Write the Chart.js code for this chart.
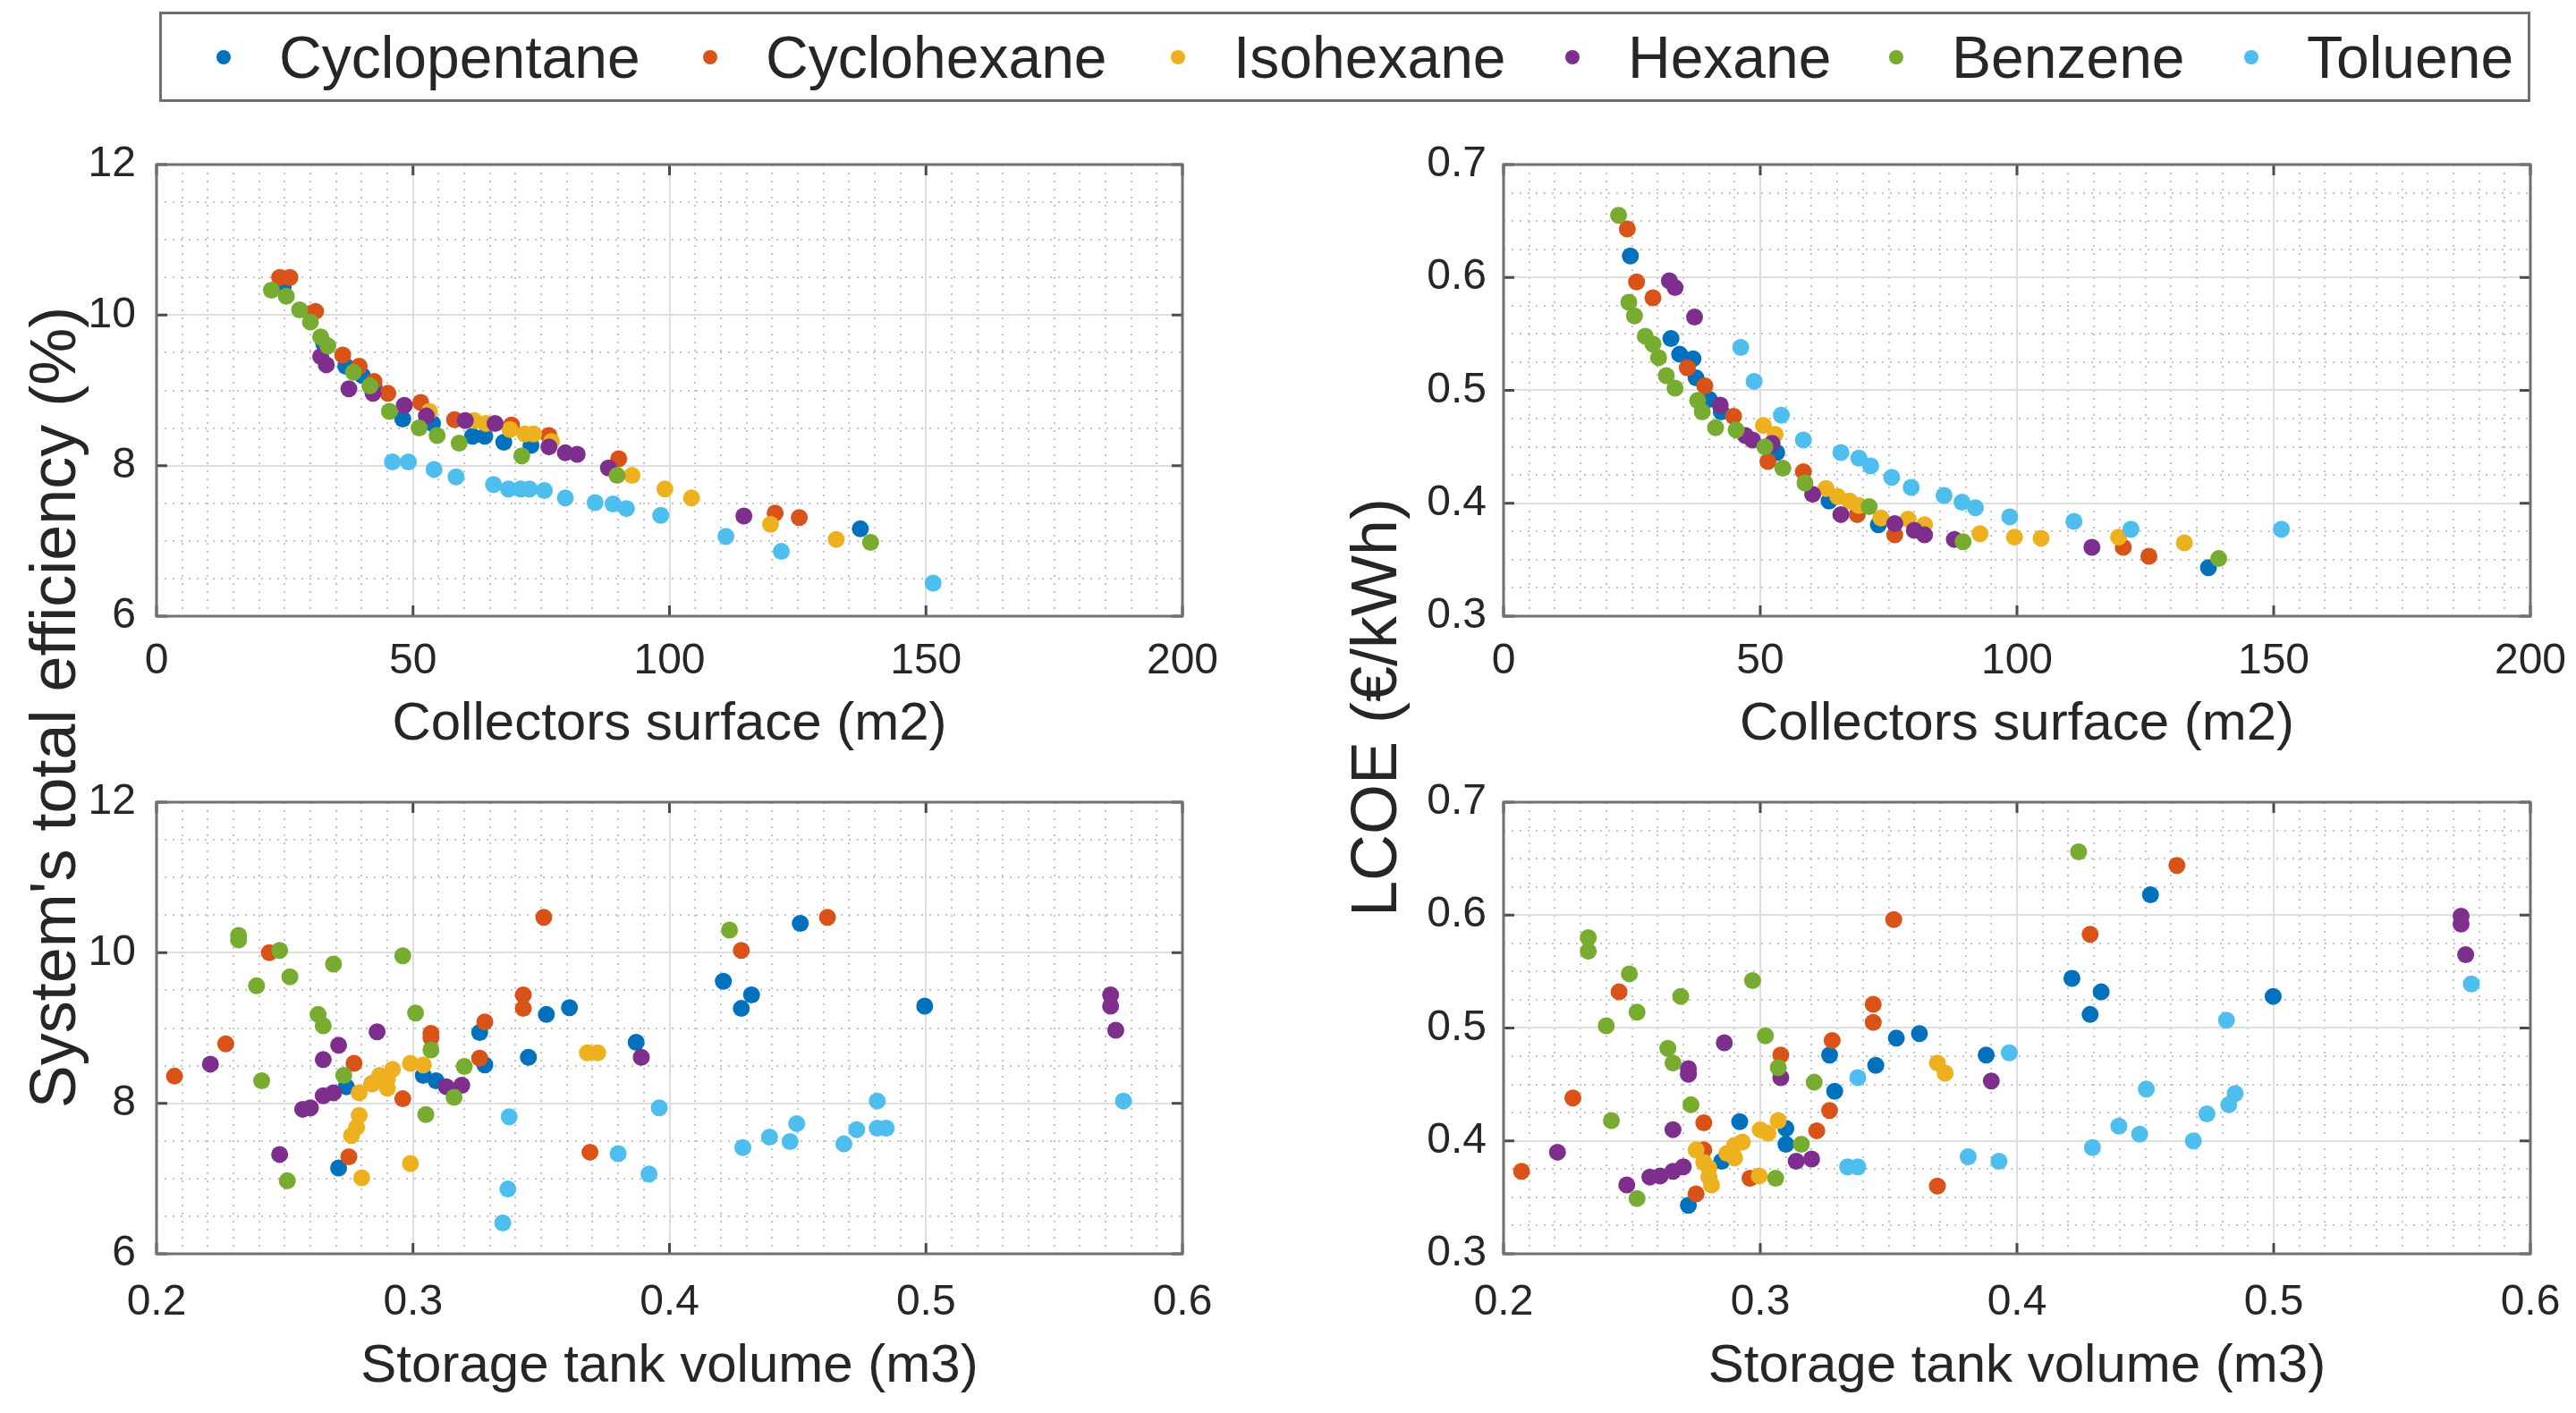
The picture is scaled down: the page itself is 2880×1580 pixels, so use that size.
<!DOCTYPE html>
<html>
<head>
<meta charset="utf-8">
<script src="https://cdn.jsdelivr.net/npm/chart.js@4.4.1/dist/chart.umd.min.js"></script>
<style>
  html, body { margin: 0; padding: 0; background: #fff; }
  body { width: 2880px; height: 1580px; position: relative; overflow: hidden;
         font-family: "Liberation Sans", Arial, sans-serif; color: #262626; }
  .panel { position: absolute; }
  .legend { position: absolute; left: 178px; top: 13px; width: 2651px; height: 101px;
            border: 3px solid #6e6e6e; box-sizing: border-box; background: #fff; }
  .legend-item { position: absolute; top: 0; height: 100%; display: flex; align-items: center;
                 font-size: 66px; white-space: nowrap; }
  .legend-item .dot { width: 16px; height: 16px; border-radius: 50%; margin-right: 54px; }
  .ytitle { position: absolute; font-size: 72px; white-space: nowrap;
            transform: translate(-50%, -50%) rotate(-90deg); }
</style>
</head>
<body>
<div class="legend" id="legend"></div>
<div class="ytitle" style="left:59px; top:791px;">System's total efficiency (%)</div>
<div class="ytitle" style="left:1536px; top:791px;">LCOE (€/kWh)</div>
<div class="panel" style="left:0px; top:150px; width:1390px; height:720px;"><canvas id="effSurf"></canvas></div>
<div class="panel" style="left:1560px; top:150px; width:1320px; height:720px;"><canvas id="lcoeSurf"></canvas></div>
<div class="panel" style="left:0px; top:863px; width:1390px; height:717px;"><canvas id="effVol"></canvas></div>
<div class="panel" style="left:1560px; top:863px; width:1320px; height:717px;"><canvas id="lcoeVol"></canvas></div>
<script>
// Series
const seriesNames = ['Cyclopentane', 'Cyclohexane', 'Isohexane', 'Hexane', 'Benzene', 'Toluene'];
const seriesColors = ['#0072BD', '#D95319', '#EDB120', '#7E2F8E', '#77AC30', '#4DBEEE'];

// Tick labels
const surfaceTicks = [0, 50, 100, 150, 200];
const volumeTicks = [0.2, 0.3, 0.4, 0.5, 0.6];
const effTicks = [6, 8, 10, 12];
const lcoeTicks = [0.3, 0.4, 0.5, 0.6, 0.7];

// Efficiency vs collectors surface, one list per series: [surface, efficiency]
const effBySurface = [
  [[24.7,10.38],[32.6,9.62],[36.9,9.32],[40.1,9.2],[42.4,9.05],[48,8.62],[53.8,8.56],[61.6,8.39],[64,8.39],[67.7,8.31],[73,8.27],[137.2,7.16]],
  [[24,10.5],[26,10.5],[30,10.02],[31,10.05],[36.3,9.47],[39.5,9.32],[42.4,9.12],[45.1,8.96],[51.5,8.84],[58.1,8.61],[69.2,8.54],[76.5,8.4],[90.1,8.09],[120.6,7.37],[125.3,7.31]],
  [[53.2,8.72],[61.9,8.6],[64.2,8.56],[68.9,8.48],[71.8,8.42],[73.5,8.42],[77,8.32],[92.7,7.87],[99.1,7.69],[104.3,7.57],[119.7,7.22],[132.5,7.02]],
  [[32,9.45],[33.1,9.34],[37.5,9.02],[42.2,8.96],[48.3,8.8],[52.6,8.66],[60.2,8.6],[66,8.56],[76.5,8.25],[79.7,8.17],[82,8.15],[88.1,7.97],[114.5,7.33]],
  [[22.4,10.33],[25.3,10.25],[27.9,10.07],[30,9.91],[32,9.71],[33.4,9.59],[38.4,9.24],[41.6,9.06],[45.4,8.72],[51.2,8.5],[54.7,8.4],[59,8.3],[71.2,8.13],[89.8,7.87],[139.2,6.98]],
  [[46,8.05],[49.1,8.05],[54.1,7.95],[58.4,7.85],[65.7,7.75],[68.6,7.69],[71,7.69],[72.7,7.69],[75.6,7.67],[79.7,7.57],[85.5,7.51],[89,7.49],[91.6,7.43],[98.3,7.34],[111,7.06],[121.8,6.86],[151.4,6.44]]
];

// LCOE vs collectors surface: [surface, lcoe]
const lcoeBySurface = [
  [[24.7,0.619],[32.6,0.546],[34.3,0.532],[36.9,0.528],[37.5,0.511],[40.1,0.492],[42.4,0.481],[53.2,0.445],[63.4,0.402],[73,0.381],[137.3,0.343]],
  [[24.1,0.643],[25.9,0.596],[29.1,0.582],[35.8,0.52],[39.2,0.504],[44.8,0.477],[51.5,0.437],[58.4,0.428],[68.9,0.39],[76.2,0.372],[120.7,0.361],[125.7,0.353]],
  [[50.6,0.469],[52.9,0.461],[62.8,0.413],[65.1,0.406],[67.4,0.402],[69.2,0.398],[73.5,0.387],[78.8,0.386],[82,0.381],[92.8,0.373],[99.5,0.37],[104.7,0.369],[119.8,0.37],[132.6,0.365]],
  [[32.3,0.597],[33.4,0.591],[37.2,0.565],[42.2,0.487],[47.1,0.46],[48.5,0.456],[52.3,0.453],[60.2,0.408],[65.7,0.39],[76.2,0.382],[80,0.376],[82,0.372],[87.8,0.368],[114.6,0.361]],
  [[22.4,0.655],[24.4,0.578],[25.5,0.566],[27.6,0.548],[29.1,0.541],[30.2,0.529],[31.7,0.513],[33.4,0.502],[37.8,0.491],[38.7,0.481],[41.3,0.467],[45.3,0.465],[50.9,0.45],[54.4,0.431],[58.7,0.418],[71.2,0.397],[89.5,0.366],[139.3,0.351]],
  [[46.2,0.538],[48.8,0.508],[54.1,0.478],[58.4,0.456],[65.7,0.445],[69.2,0.44],[71.5,0.433],[75.6,0.423],[79.4,0.414],[85.8,0.407],[89.3,0.401],[91.9,0.396],[98.6,0.388],[111.1,0.384],[122.2,0.377],[151.5,0.377]]
];

// Efficiency vs storage tank volume: [volume, efficiency]
const effByVolume = [
  [[0.271,7.14],[0.274,8.22],[0.284,8.26],[0.304,8.37],[0.309,8.3],[0.326,8.94],[0.328,8.51],[0.345,8.61],[0.352,9.18],[0.361,9.27],[0.387,8.81],[0.421,9.62],[0.432,9.44],[0.428,9.26],[0.451,10.39],[0.4995,9.29]],
  [[0.207,8.36],[0.227,8.79],[0.244,10.0],[0.277,8.53],[0.275,7.29],[0.296,8.06],[0.307,8.93],[0.307,8.87],[0.328,9.08],[0.326,8.6],[0.343,9.44],[0.343,9.26],[0.351,10.47],[0.369,7.35],[0.428,10.03],[0.4616,10.47]],
  [[0.279,8.14],[0.279,7.84],[0.278,7.68],[0.276,7.57],[0.28,7.01],[0.284,8.26],[0.287,8.37],[0.29,8.32],[0.29,8.2],[0.292,8.45],[0.299,8.53],[0.304,8.51],[0.299,7.2],[0.368,8.67],[0.372,8.67]],
  [[0.221,8.52],[0.248,7.32],[0.257,7.92],[0.26,7.94],[0.265,8.1],[0.269,8.14],[0.265,8.58],[0.271,8.77],[0.286,8.95],[0.313,8.22],[0.319,8.24],[0.389,8.61],[0.572,9.44],[0.572,9.29],[0.574,8.97]],
  [[0.232,10.23],[0.232,10.17],[0.248,10.03],[0.269,9.85],[0.296,9.96],[0.252,9.68],[0.239,9.56],[0.263,9.18],[0.265,9.03],[0.301,9.2],[0.307,8.71],[0.273,8.37],[0.241,8.3],[0.32,8.49],[0.316,8.08],[0.305,7.85],[0.251,6.97],[0.4234,10.3]],
  [[0.3375,7.82],[0.337,6.86],[0.335,6.41],[0.38,7.33],[0.392,7.06],[0.396,7.94],[0.481,8.03],[0.577,8.03],[0.4496,7.73],[0.439,7.55],[0.447,7.49],[0.4286,7.41],[0.468,7.46],[0.473,7.65],[0.481,7.67],[0.4845,7.67]]
];

// LCOE vs storage tank volume: [volume, lcoe]
const lcoeByVolume = [
  [[0.272,0.343],[0.285,0.382],[0.292,0.417],[0.31,0.411],[0.31,0.397],[0.327,0.476],[0.329,0.444],[0.345,0.467],[0.353,0.491],[0.362,0.495],[0.388,0.476],[0.4214,0.544],[0.4328,0.532],[0.4285,0.512],[0.452,0.618],[0.4998,0.528]],
  [[0.207,0.373],[0.227,0.438],[0.245,0.532],[0.278,0.416],[0.278,0.392],[0.275,0.353],[0.296,0.367],[0.308,0.476],[0.328,0.489],[0.327,0.427],[0.322,0.409],[0.344,0.521],[0.344,0.505],[0.352,0.596],[0.369,0.36],[0.4285,0.583],[0.4623,0.644]],
  [[0.275,0.392],[0.278,0.381],[0.28,0.368],[0.281,0.361],[0.28,0.376],[0.287,0.389],[0.29,0.396],[0.293,0.399],[0.29,0.385],[0.3,0.41],[0.303,0.407],[0.307,0.418],[0.2996,0.369],[0.369,0.469],[0.372,0.46]],
  [[0.221,0.39],[0.248,0.361],[0.257,0.368],[0.261,0.369],[0.266,0.373],[0.27,0.377],[0.266,0.41],[0.272,0.464],[0.272,0.459],[0.286,0.487],[0.308,0.456],[0.314,0.382],[0.32,0.384],[0.39,0.453],[0.573,0.599],[0.573,0.592],[0.5748,0.565]],
  [[0.233,0.58],[0.233,0.568],[0.249,0.548],[0.24,0.502],[0.252,0.514],[0.269,0.528],[0.297,0.542],[0.264,0.482],[0.266,0.469],[0.302,0.493],[0.307,0.465],[0.273,0.432],[0.242,0.418],[0.321,0.452],[0.316,0.397],[0.306,0.367],[0.252,0.349],[0.424,0.656]],
  [[0.338,0.456],[0.334,0.377],[0.338,0.377],[0.381,0.386],[0.393,0.382],[0.397,0.478],[0.4816,0.507],[0.577,0.539],[0.4504,0.446],[0.485,0.442],[0.4825,0.432],[0.474,0.424],[0.4397,0.413],[0.4478,0.406],[0.4687,0.4],[0.4294,0.394]]
];

// Legend (HTML)
const legendLefts = [61, 605, 1128, 1569, 1931, 2328];
const legendEl = document.getElementById('legend');
seriesNames.forEach((name, i) => {
  const item = document.createElement('div');
  item.className = 'legend-item';
  item.style.left = legendLefts[i] + 'px';
  item.innerHTML = `<span class="dot" style="background:${seriesColors[i]}"></span><span>${name}</span>`;
  legendEl.appendChild(item);
});

// helpers
function isMajor(majors, v) {
  return majors.some(t => Math.abs(t - v) < 1e-9);
}

function minorTicks(majors, divisions) {
  const out = [];
  for (let i = 0; i < majors.length - 1; i++) {
    const step = (majors[i + 1] - majors[i]) / divisions;
    for (let j = 0; j < divisions; j++) out.push(+(majors[i] + j * step).toFixed(6));
  }
  out.push(majors[majors.length - 1]);
  return out;
}

// no extra room for edge labels: the plot box must stay where it is
function noPadding(s) {
  s.paddingTop = 0;
  s.paddingBottom = 0;
  s.paddingLeft = 0;
  s.paddingRight = 0;
}

// Box with inward ticks, like the original axes
const framePlugin = {
  id: 'frame',
  afterDraw(chart) {
    const { ctx, chartArea: a, scales } = chart;
    ctx.save();
    ctx.strokeStyle = '#4a4a4a';
    ctx.lineWidth = 3;
    ctx.beginPath();
    const tl = 12;
    scales.x.ticks.forEach(t => {
      if (!isMajor(scales.x.options.majorValues, t.value)) return;
      const px = scales.x.getPixelForValue(t.value);
      ctx.moveTo(px, a.bottom); ctx.lineTo(px, a.bottom - tl);
      ctx.moveTo(px, a.top); ctx.lineTo(px, a.top + tl);
    });
    scales.y.ticks.forEach(t => {
      if (!isMajor(scales.y.options.majorValues, t.value)) return;
      const py = scales.y.getPixelForValue(t.value);
      ctx.moveTo(a.left, py); ctx.lineTo(a.left + tl, py);
      ctx.moveTo(a.right, py); ctx.lineTo(a.right - tl, py);
    });
    ctx.stroke();
    ctx.strokeStyle = '#707070';
    ctx.strokeRect(a.left, a.top, a.right - a.left, a.bottom - a.top);
    ctx.restore();
  }
};

function axisOptions(majors, divisions, fmt, extra) {
  return Object.assign({
    type: 'linear',
    min: majors[0],
    max: majors[majors.length - 1],
    majorValues: majors,
    afterBuildTicks: scale => {
      scale.ticks = minorTicks(majors, divisions).map(v => ({ value: v }));
    },
    ticks: {
      autoSkip: false,
      maxRotation: 0,
      color: '#262626',
      font: { family: '"Liberation Sans", Arial, sans-serif', size: 48 },
      callback: v => isMajor(majors, v) ? fmt(v) : ''
    },
    grid: {
      drawTicks: false,
      lineWidth: 2,
      color: c => (c.tick && isMajor(majors, c.tick.value)) ? '#dedede' : '#c4c4c4'
    },
    border: {
      display: false,
      dash: c => (c.tick && !isMajor(majors, c.tick.value)) ? [2, 7] : []
    }
  }, extra);
}

function renderPanel(canvasId, data, xAxis, yAxis, xTitle, g) {
  const xOpts = axisOptions(xAxis.majors, xAxis.divisions, xAxis.fmt, {
    afterFit: s => { s.height = g.xAxisHeight; noPadding(s); },
    title: {
      display: true, text: xTitle, color: '#262626',
      font: { family: '"Liberation Sans", Arial, sans-serif', size: 60 },
      padding: { top: 0, bottom: g.titlePad }
    }
  });
  xOpts.ticks.padding = g.xTickPad;
  const yOpts = axisOptions(yAxis.majors, yAxis.divisions, yAxis.fmt, {
    afterFit: s => { s.width = g.yAxisWidth; noPadding(s); }
  });
  yOpts.ticks.padding = g.yTickPad;

  new Chart(document.getElementById(canvasId), {
    type: 'scatter',
    data: {
      datasets: seriesNames.map((name, i) => ({
        label: name,
        data: data[i].map(p => ({ x: p[0], y: p[1] })),
        backgroundColor: seriesColors[i],
        borderWidth: 0,
        pointRadius: 9.5,
        pointHoverRadius: 9.5,
        order: seriesNames.length - i
      }))
    },
    options: {
      responsive: true,
      maintainAspectRatio: false,
      animation: false,
      events: [],
      layout: { autoPadding: false, padding: { top: g.padTop, right: g.padRight, left: 0, bottom: 0 } },
      plugins: { legend: { display: false }, tooltip: { enabled: false } },
      scales: { x: xOpts, y: yOpts }
    },
    plugins: [framePlugin]
  });
}

const surfaceAxis = { majors: surfaceTicks, divisions: 10, fmt: v => String(v) };
const volumeAxis = { majors: volumeTicks, divisions: 10, fmt: v => v.toFixed(1) };
const effAxis = { majors: effTicks, divisions: 4, fmt: v => String(v) };
const lcoeAxis = { majors: lcoeTicks, divisions: 4, fmt: v => v.toFixed(1) };

renderPanel('effSurf', effBySurface, surfaceAxis, effAxis, 'Collectors surface (m2)',
  { padTop: 34, padRight: 68, yAxisWidth: 175, xAxisHeight: 181, yTickPad: 23, xTickPad: 22, titlePad: 24 });
renderPanel('lcoeSurf', lcoeBySurface, surfaceAxis, lcoeAxis, 'Collectors surface (m2)',
  { padTop: 34, padRight: 51, yAxisWidth: 121, xAxisHeight: 181, yTickPad: 19, xTickPad: 22, titlePad: 24 });
renderPanel('effVol', effByVolume, volumeAxis, effAxis, 'Storage tank volume (m3)',
  { padTop: 34, padRight: 68, yAxisWidth: 175, xAxisHeight: 178, yTickPad: 23, xTickPad: 26, titlePad: 16 });
renderPanel('lcoeVol', lcoeByVolume, volumeAxis, lcoeAxis, 'Storage tank volume (m3)',
  { padTop: 34, padRight: 51, yAxisWidth: 121, xAxisHeight: 178, yTickPad: 19, xTickPad: 26, titlePad: 16 });
</script>
</body>
</html>
